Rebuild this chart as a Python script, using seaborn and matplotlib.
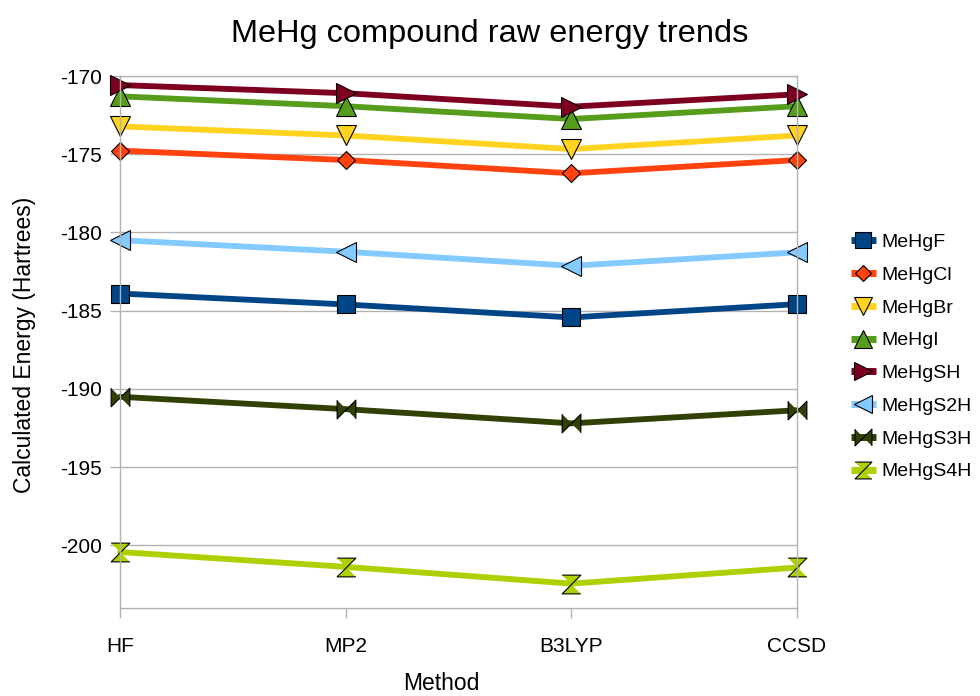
import matplotlib
matplotlib.use("Agg")
import matplotlib.pyplot as plt
import seaborn as sns
import pandas as pd

methods = ["HF", "MP2", "B3LYP", "CCSD"]
compounds = ["MeHgF", "MeHgCl", "MeHgBr", "MeHgI", "MeHgSH", "MeHgS2H", "MeHgS3H", "MeHgS4H"]

mehgf   = [-183.90, -184.60, -185.43, -184.58]
mehgcl  = [-174.77, -175.37, -176.22, -175.37]
mehgbr  = [-173.22, -173.80, -174.67, -173.80]
mehgi   = [-171.30, -171.93, -172.75, -171.93]
mehgsh  = [-170.58, -171.10, -171.96, -171.17]
mehgs2h = [-180.49, -181.23, -182.13, -181.27]
mehgs3h = [-190.50, -191.29, -192.20, -191.36]
mehgs4h = [-200.42, -201.37, -202.44, -201.41]

series = [mehgf, mehgcl, mehgbr, mehgi, mehgsh, mehgs2h, mehgs3h, mehgs4h]
colors = ["#004586", "#ff420e", "#ffd320", "#579d1c", "#7e0021", "#83caff", "#314004", "#aecf00"]
bowtie_h = [(-1, 1), (-1, -1), (1, 1), (1, -1)]
bowtie_v = [(-1, 1), (1, 1), (-1, -1), (1, -1)]
markers = ["s", "D", "v", "^", ">", "<", bowtie_h, bowtie_v]
msizes = [13.5, 9.5, 14, 14, 14, 14, 13.5, 13.5]

sns.set_style("white")
plt.rcParams["font.family"] = ["Liberation Sans", "DejaVu Sans"]
plt.rcParams["axes.unicode_minus"] = False
plt.rcParams["text.color"] = "black"
plt.rcParams["axes.labelcolor"] = "black"
plt.rcParams["xtick.color"] = "black"
plt.rcParams["ytick.color"] = "black"

fig = plt.figure(figsize=(9.8, 6.96), dpi=100)
ax = fig.add_axes([0.1224, 0.1264, 0.8133 - 0.1224, 0.8908 - 0.1264])

for name, vals, c, m, ms in zip(compounds, series, colors, markers, msizes):
    df = pd.DataFrame({"Method": methods, "Energy": vals})
    sns.lineplot(data=df, x="Method", y="Energy", ax=ax, color=c, marker=m,
                 markersize=ms, markeredgecolor="black", markeredgewidth=0.8,
                 linewidth=4.2, label=name, sort=False, clip_on=False)

ax.set_xlim(0, 3)
ax.set_ylim(-204, -170)
ax.set_yticks([-170, -175, -180, -185, -190, -195, -200])
ax.yaxis.grid(True, color="#b3b3b3", linewidth=1)
ax.xaxis.grid(False)
ax.set_axisbelow(True)
for s in ax.spines.values():
    s.set_color("#b3b3b3")
    s.set_linewidth(1)
ax.tick_params(axis="both", direction="out", length=7, width=1, color="#b3b3b3",
               labelcolor="black", labelsize=15, pad=6, bottom=True, left=True)
ax.tick_params(axis="x", pad=14)

ax.set_xlabel("Method", fontsize=16.5)
ax.set_ylabel("Calculated Energy (Hartrees)", fontsize=16.5)
ax.xaxis.set_label_coords(0.474, -0.121)
ax.yaxis.set_label_coords(-0.124, 0.494)
fig.suptitle("MeHg compound raw energy trends", fontsize=23.4, y=0.972)

leg = ax.legend(loc="center left", bbox_to_anchor=(1.068, 0.472), frameon=False,
                fontsize=14, handlelength=1.3, handletextpad=0.25,
                labelspacing=0.78, borderaxespad=0)
for t in leg.get_texts():
    t.set_color("black")
for h in leg.legend_handles:
    h.set_solid_capstyle("butt")
    h.set_linewidth(5)
    h.set_markersize(h.get_markersize() * 0.9)

fig.savefig("out.png", dpi=100)
